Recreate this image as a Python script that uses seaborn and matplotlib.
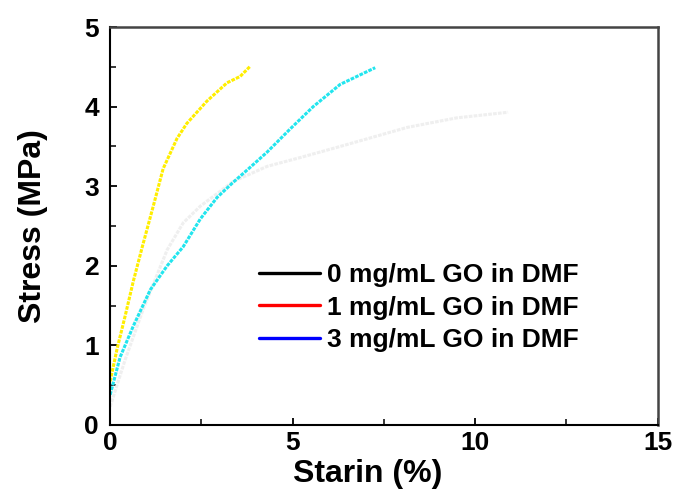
import pandas as pd
import matplotlib.pyplot as plt
import seaborn as sns
from matplotlib.lines import Line2D
from matplotlib.ticker import MultipleLocator

# strain (%) / stress (MPa)
strain_0 = [0, 0.41, 0.9, 1.56, 2.0, 2.47, 3.37, 4.3, 5.2, 6.3, 8.14, 9.5, 10.9]
stress_0 = [0.23, 0.82, 1.45, 2.2, 2.54, 2.75, 3.06, 3.25, 3.36, 3.5, 3.74, 3.86, 3.93]

strain_1 = [0, 0.19, 0.41, 0.63, 0.88, 1.18, 1.45, 1.83, 2.1, 2.65, 3.2, 3.56, 3.84]
stress_1 = [0.55, 0.96, 1.37, 1.8, 2.24, 2.75, 3.22, 3.6, 3.79, 4.07, 4.3, 4.38, 4.51]

strain_3 = [0, 0.27, 0.63, 1.1, 1.56, 2.0, 2.47, 2.93, 3.37, 3.84, 4.3, 4.93, 5.56, 6.3, 7.26]
stress_3 = [0.38, 0.85, 1.24, 1.7, 2.0, 2.24, 2.59, 2.86, 3.05, 3.24, 3.43, 3.72, 4.0, 4.28, 4.49]

labels = ['0 mg/mL GO in DMF', '1 mg/mL GO in DMF', '3 mg/mL GO in DMF']
curve_colors = ['#efefef', '#ffee00', '#22e5ee']
legend_colors = ['black', 'red', 'blue']

frames = []
for lab, xs, ys in zip(labels, [strain_0, strain_1, strain_3], [stress_0, stress_1, stress_3]):
    frames.append(pd.DataFrame({'strain': xs, 'stress': ys, 'sample': lab}))
df = pd.concat(frames, ignore_index=True)

sns.set_style("ticks")
plt.rcParams['font.family'] = ['Liberation Sans', 'DejaVu Sans']
plt.rcParams['font.weight'] = 'bold'
for key in ['text.color', 'axes.labelcolor', 'xtick.color', 'ytick.color']:
    plt.rcParams[key] = 'black'

fig = plt.figure(figsize=(6.76, 4.93), dpi=100)
ax = fig.add_axes([0.163, 0.138, 0.81, 0.807])

sns.lineplot(data=df, x='strain', y='stress', hue='sample', palette=curve_colors,
             sort=False, estimator=None, linewidth=2.2, ax=ax, legend=False,
             linestyle=(0, (1.2, 0.4)))

ax.set_xlim(0, 15)
ax.set_ylim(0, 5)
ax.xaxis.set_major_locator(MultipleLocator(5))
ax.xaxis.set_minor_locator(MultipleLocator(2.5))
ax.yaxis.set_major_locator(MultipleLocator(1))
ax.yaxis.set_minor_locator(MultipleLocator(0.5))
ax.tick_params(which='major', direction='in', length=5, width=1.3, labelsize=19, pad=4)
ax.tick_params(which='minor', direction='in', length=4, width=1.1)
ax.tick_params(axis='y', pad=8)

for side in ['left', 'bottom']:
    ax.spines[side].set_color('black')
    ax.spines[side].set_linewidth(1.5)
for side in ['top', 'right']:
    ax.spines[side].set_color('#444444')
    ax.spines[side].set_linewidth(1.8)

ax.set_xlabel('Starin (%)', fontsize=23, fontweight='bold')
ax.xaxis.set_label_coords(0.47, -0.085, transform=ax.transAxes)
ax.xaxis.label.set_va('top')
ax.set_ylabel('Stress (MPa)', fontsize=23, fontweight='bold', labelpad=26)

handles = [Line2D([], [], color=c, linewidth=2.4) for c in legend_colors]
ax.legend(handles, labels, loc='center left', bbox_to_anchor=(0.229, 0.295),
          frameon=False, handlelength=2.3, handletextpad=0.25,
          labelspacing=0.33, prop={'weight': 'bold', 'size': 19})

plt.savefig('out.png', dpi=100)
